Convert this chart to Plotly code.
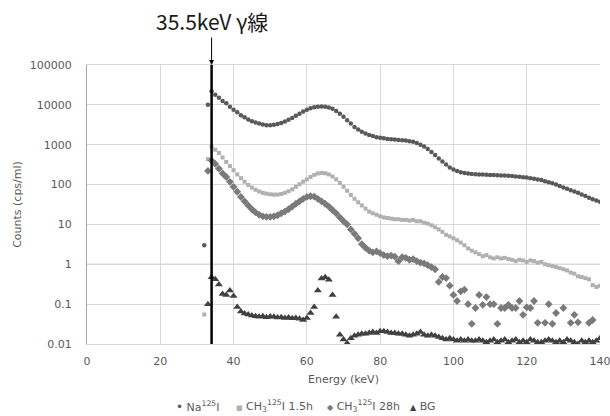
import plotly.graph_objects as go

energy = list(range(32, 141))

na125i = [3, 10000, 22000, 18000, 15000, 12500, 11000, 9000, 7500, 6500,
          5500, 4900, 4300, 3900, 3600, 3400, 3200, 3100, 3100, 3150,
          3300, 3500, 3800, 4200, 4700, 5300, 6000, 6800, 7500, 8200,
          8700, 9000, 9100, 9000, 8600, 8000, 7000, 6000, 5000, 4100,
          3400, 2800, 2400, 2100, 1900, 1750, 1650, 1550, 1500, 1450,
          1400, 1380, 1350, 1320, 1300, 1270, 1230, 1180, 1100, 1000,
          900, 780, 660, 550, 450, 380, 320, 270, 240, 220,
          205, 195, 190, 185, 182, 180, 178, 176, 175, 173,
          172, 170, 168, 166, 163, 160, 157, 153, 150, 145,
          140, 135, 130, 122, 115, 108, 100, 92, 85, 78,
          72, 67, 62, 56, 52, 47, 43, 40, 37]

ch3i_1_5h = [0.055, 435, 900, 750, 620, 480, 370, 290, 230, 180,
             145, 118, 98, 84, 74, 67, 62, 59, 57, 56,
             56, 58, 62, 68, 76, 88, 102, 118, 135, 155,
             175, 190, 196, 192, 180, 160, 135, 110, 88, 70,
             55, 44, 36, 30, 25, 21, 19, 17.5, 16, 15,
             14.5, 14, 13.5, 13.5, 13, 13, 12.5, 13, 12, 12,
             11, 10.5, 9.5, 8.5, 7.5, 6.5, 5.5, 5, 4.5, 4,
             3.5, 3, 2.5, 2.2, 2, 1.8, 1.6, 1.7, 1.5, 1.4,
             1.5, 1.4, 1.45, 1.35, 1.3, 1.2, 1.3, 1.25, 1.15, 1.25,
             1.2, 1.1, 1.15, 1.0, 0.95, 0.9, 0.85, 0.8, 0.75, 0.7,
             0.62, 0.58, 0.5, 0.48, 0.45, 0.42, 0.3, 0.27, 0.29]

ch3i_28h = [None, 220, 400, 330, 250, 190, 155, 117, 88, 66,
            49, 38, 30, 24, 20, 17.5, 16, 15.5, 15.5, 16,
            17, 19, 21, 24, 28, 33, 38, 44, 49, 51,
            50, 44, 38, 33, 28, 23, 19, 15, 12, 10,
            7.5, 5.8, 4.5, 3.2, 2.6, 2.2, 2.0, 2.1, 1.9, 1.7,
            1.6, 1.65, 1.55, 1.2, 1.5, 1.45, 1.3, 1.35, 1.2, 1.1,
            1.05, 0.95, 0.85, 0.75, 0.36, 0.48, 0.45, 0.29, 0.17, 0.12,
            0.21, 0.23, 0.1, 0.032, 0.08, 0.17, 0.096, 0.15, 0.1, 0.1,
            0.032, 0.08, 0.08, 0.096, 0.08, 0.08, 0.12, 0.054, 0.083, 0.08,
            0.12, 0.034, None, 0.034, 0.1, 0.032, 0.06, None, 0.08, None,
            0.034, 0.054, 0.035, None, None, 0.034, 0.04, None, None]

bg = [None, 0.1, 0.47, 0.42, 0.31, 0.18, 0.17, 0.22, 0.16, 0.085,
      0.065, 0.058, 0.055, 0.052, 0.05, 0.048, 0.05, 0.047, 0.049, 0.048,
      0.046, 0.047, 0.045, 0.046, 0.044, 0.045, 0.043, 0.04, 0.045, 0.06,
      0.085, 0.22, 0.44, 0.47, 0.41, 0.17, 0.048, 0.017, 0.013, 0.0105,
      0.014, 0.016, 0.017, 0.018, 0.018, 0.019, 0.02, 0.019, 0.021, 0.021,
      0.02, 0.019, 0.019, 0.018, 0.018, 0.017, 0.016, 0.017, 0.018, 0.02,
      0.017, 0.016, 0.017, 0.016, 0.015, 0.014, 0.013, 0.014, 0.013, 0.012,
      0.013, 0.012, 0.013, 0.012, 0.012, 0.013, 0.012, 0.011, 0.012, 0.013,
      0.011, 0.012, 0.013, 0.011, 0.012, 0.013, 0.011, 0.012, 0.011, 0.013,
      0.012, 0.011, 0.011, 0.012, 0.013, 0.012, 0.011, 0.012, 0.011, 0.013,
      0.012, 0.011, 0.01, 0.012, 0.011, 0.012, 0.011, 0.012, 0.014]

x_ticks = [0, 20, 40, 60, 80, 100, 120, 140]
y_tickvals = [0.01, 0.1, 1, 10, 100, 1000, 10000, 100000]
y_ticktext = ["0.01", "0.1", "1", "10", "100", "1000", "10000", "100000"]

gamma_energy_marker = 34
gamma_label = "35.5keV γ線"

FONT = "DejaVu Sans"
TXT = "#595959"

series = [
    ("Na<sup>125</sup>I", na125i, "circle", 4.5, "#595959", "•"),
    ("CH<sub>3</sub><sup>125</sup>I 1.5h", ch3i_1_5h, "square", 4, "#b0b0b0", "■"),
    ("CH<sub>3</sub><sup>125</sup>I 28h", ch3i_28h, "diamond", 6, "#7a7a7a", "◆"),
    ("BG", bg, "triangle-up", 7, "#404040", "▲"),
]

fig = go.Figure()
for name, vals, sym, size, col, glyph in series:
    fig.add_trace(go.Scatter(
        x=energy, y=vals, mode="markers", name=name, showlegend=False,
        marker=dict(symbol=sym, size=size, color=col, line=dict(width=0)),
    ))

# legend drawn as text items below the axis
L, R, T, B = 87, 10, 65, 72
PW, PH = 610 - L - R, 416 - T - B
legend_px = [174, 234, 325, 408]
glyph_sizes = [12, 7, 8, 8]
for (name, vals, sym, size, col, glyph), px, gs in zip(series, legend_px, glyph_sizes):
    fig.add_annotation(
        x=(px - L) / PW, xref="paper", y=(T + PH - 406) / PH, yref="paper",
        xanchor="left", yanchor="middle", showarrow=False,
        text=f'<span style="color:{col};font-size:{gs}px">{glyph}</span> {name}',
        font=dict(family=FONT, size=11, color=TXT),
    )

# horizontal axis crossing line at 1
fig.add_shape(type="line", xref="paper", yref="y", x0=0, x1=1, y0=1, y1=1,
              line=dict(color="#a6a6a6", width=1), layer="below")
# gamma line
fig.add_shape(type="line", xref="x", yref="paper", x0=gamma_energy_marker,
              x1=gamma_energy_marker, y0=0, y1=1,
              line=dict(color="black", width=2.5))
fig.add_annotation(x=gamma_energy_marker, xref="x", y=1, yref="paper",
                   text=gamma_label, showarrow=True, arrowhead=2, arrowsize=1,
                   arrowwidth=1, arrowcolor="black", ax=0, ay=-44,
                   font=dict(family="Noto Sans CJK JP", size=21, color="#1a1a1a"))

fig.update_layout(
    width=610, height=416,
    margin=dict(l=L, r=R, t=T, b=B),
    paper_bgcolor="white", plot_bgcolor="white",
    font=dict(family=FONT, size=11, color=TXT),
    showlegend=False,
)
fig.update_xaxes(range=[0, 140], tickvals=x_ticks, showgrid=True,
                 gridcolor="#d9d9d9", gridwidth=1, zeroline=False,
                 showline=True, linecolor="#d9d9d9", mirror=True,
                 ticks="", ticklabelstandoff=7, ticklabeloverflow="allow",
                 automargin=False,
                 title=dict(text="Energy (keV)", standoff=8, font=dict(size=11, color=TXT)))
fig.update_yaxes(type="log", range=[-2, 5], tickvals=y_tickvals,
                 ticktext=y_ticktext, showgrid=True, gridcolor="#d9d9d9",
                 gridwidth=1, zeroline=False, showline=True,
                 linecolor="#a6a6a6", ticks="", ticklabelstandoff=12,
                 automargin=False,
                 title=dict(text="Counts (cps/ml)", standoff=5, font=dict(size=11, color=TXT)))

fig.write_html("out.html")
